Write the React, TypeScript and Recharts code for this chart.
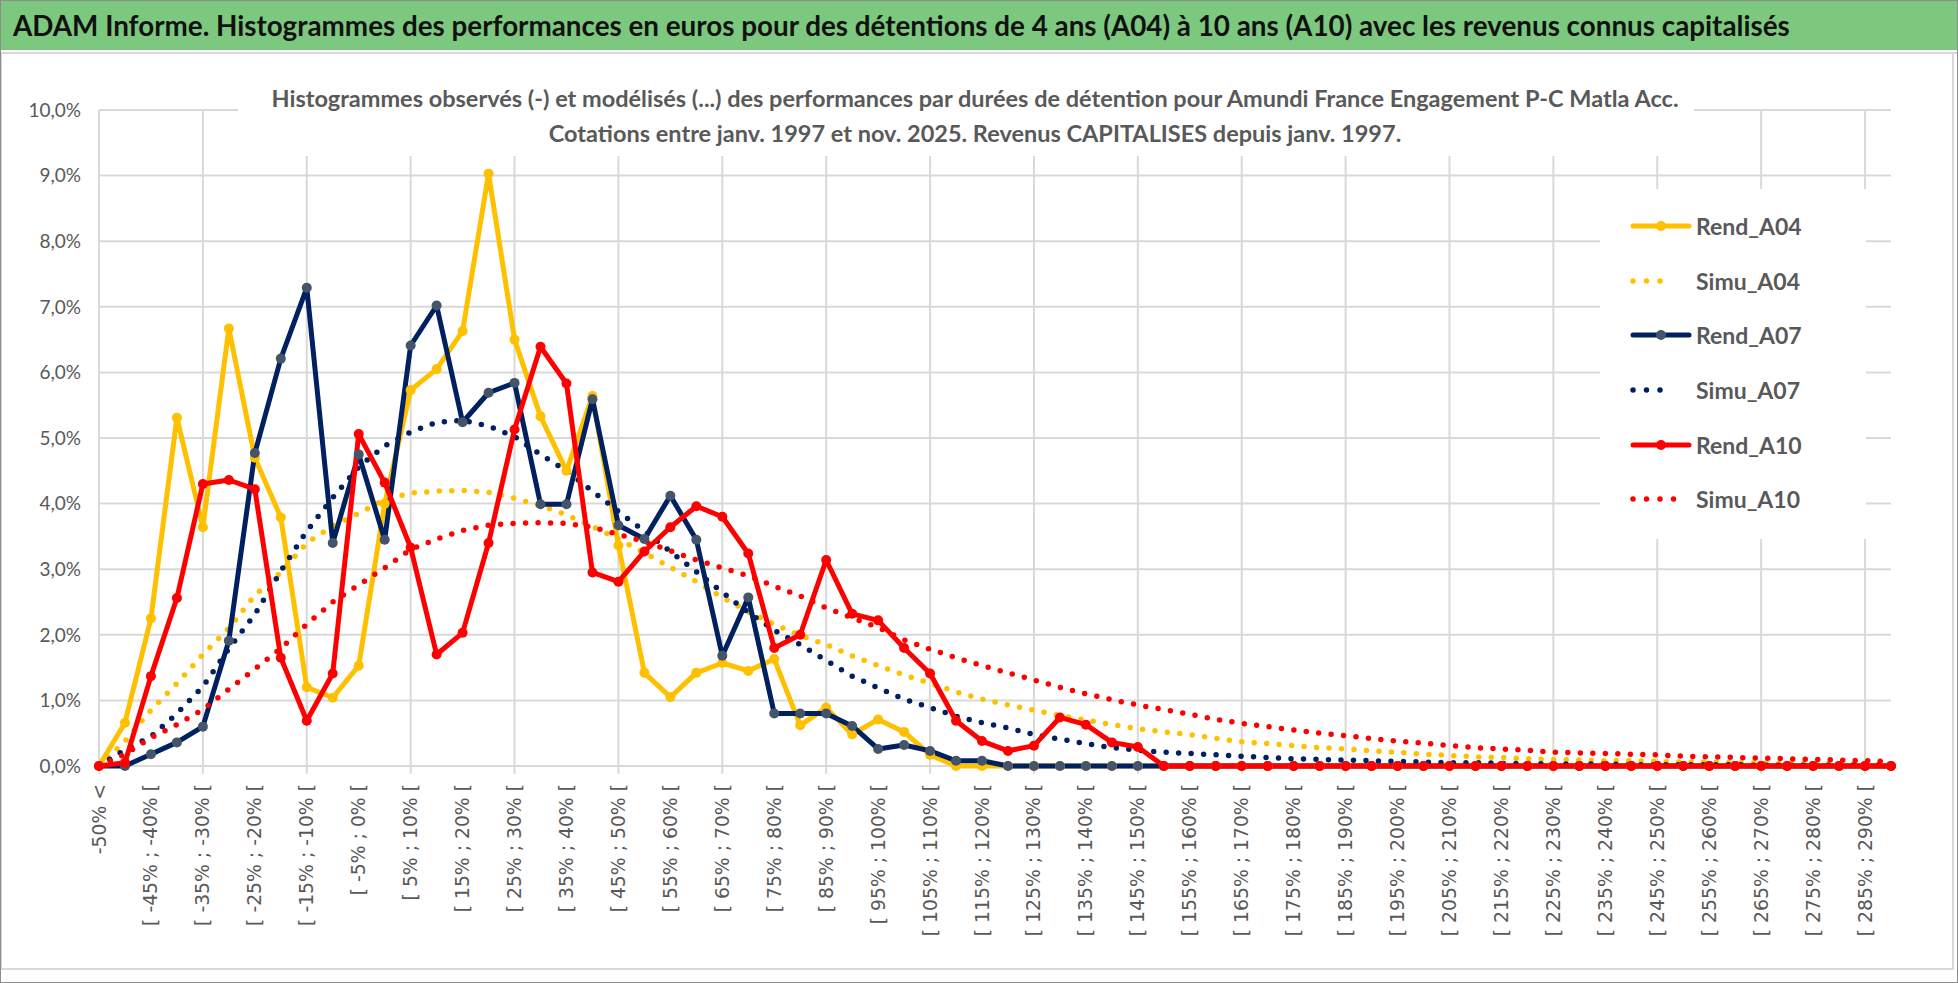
import React from "react";
import { LineChart, Line, XAxis, YAxis, CartesianGrid, ReferenceLine } from "recharts";

// Category bins (performance ranges)
const CATEGORIES = [
  "-50% <", "[ -50% ; -45% [", "[ -45% ; -40% [", "[ -40% ; -35% [", "[ -35% ; -30% [",
  "[ -30% ; -25% [", "[ -25% ; -20% [", "[ -20% ; -15% [", "[ -15% ; -10% [", "[ -10% ; -5% [",
  "[ -5% ; 0% [", "[ 0% ; 5% [", "[ 5% ; 10% [", "[ 10% ; 15% [", "[ 15% ; 20% [",
  "[ 20% ; 25% [", "[ 25% ; 30% [", "[ 30% ; 35% [", "[ 35% ; 40% [", "[ 40% ; 45% [",
  "[ 45% ; 50% [", "[ 50% ; 55% [", "[ 55% ; 60% [", "[ 60% ; 65% [", "[ 65% ; 70% [",
  "[ 70% ; 75% [", "[ 75% ; 80% [", "[ 80% ; 85% [", "[ 85% ; 90% [", "[ 90% ; 95% [",
  "[ 95% ; 100% [", "[ 100% ; 105% [", "[ 105% ; 110% [", "[ 110% ; 115% [", "[ 115% ; 120% [",
  "[ 120% ; 125% [", "[ 125% ; 130% [", "[ 130% ; 135% [", "[ 135% ; 140% [", "[ 140% ; 145% [",
  "[ 145% ; 150% [", "[ 150% ; 155% [", "[ 155% ; 160% [", "[ 160% ; 165% [", "[ 165% ; 170% [",
  "[ 170% ; 175% [", "[ 175% ; 180% [", "[ 180% ; 185% [", "[ 185% ; 190% [", "[ 190% ; 195% [",
  "[ 195% ; 200% [", "[ 200% ; 205% [", "[ 205% ; 210% [", "[ 210% ; 215% [", "[ 215% ; 220% [",
  "[ 220% ; 225% [", "[ 225% ; 230% [", "[ 230% ; 235% [", "[ 235% ; 240% [", "[ 240% ; 245% [",
  "[ 245% ; 250% [", "[ 250% ; 255% [", "[ 255% ; 260% [", "[ 260% ; 265% [", "[ 265% ; 270% [",
  "[ 270% ; 275% [", "[ 275% ; 280% [", "[ 280% ; 285% [", "[ 285% ; 290% [", "[ 290% ; 295% [",
];

// observed histograms (%)
const REND_A04 = [
  0.0, 0.66, 2.25, 5.31, 3.64, 6.67, 4.7, 3.79, 1.2, 1.04,
  1.53, 4.0, 5.73, 6.05, 6.63, 9.03, 6.5, 5.33, 4.5, 5.64,
  3.36, 1.42, 1.05, 1.42, 1.57, 1.45, 1.63, 0.62, 0.89, 0.48,
  0.71, 0.52, 0.17, 0.0, 0.0, 0, 0, 0, 0, 0,
  0, 0, 0, 0, 0, 0, 0, 0, 0, 0,
  0, 0, 0, 0, 0, 0, 0, 0, 0, 0,
  0, 0, 0, 0, 0, 0, 0, 0, 0, 0,
];
const REND_A07 = [
  0.0, 0.0, 0.18, 0.36, 0.6, 1.91, 4.77, 6.21, 7.29, 3.4,
  4.75, 3.45, 6.41, 7.02, 5.24, 5.69, 5.84, 3.99, 3.99, 5.59,
  3.67, 3.46, 4.12, 3.45, 1.68, 2.57, 0.8, 0.8, 0.8, 0.61,
  0.26, 0.32, 0.23, 0.08, 0.08, 0, 0, 0, 0, 0,
  0, 0, 0, 0, 0, 0, 0, 0, 0, 0,
  0, 0, 0, 0, 0, 0, 0, 0, 0, 0,
  0, 0, 0, 0, 0, 0, 0, 0, 0, 0,
];
const REND_A10 = [
  0.0, 0.05, 1.37, 2.56, 4.3, 4.36, 4.22, 1.65, 0.69, 1.41,
  5.06, 4.32, 3.33, 1.7, 2.03, 3.4, 5.13, 6.39, 5.83, 2.95,
  2.81, 3.27, 3.64, 3.96, 3.8, 3.24, 1.8, 2.0, 3.14, 2.32,
  2.22, 1.8, 1.41, 0.69, 0.38, 0.23, 0.31, 0.74, 0.63, 0.36,
  0.29, 0, 0, 0, 0, 0, 0, 0, 0, 0,
  0, 0, 0, 0, 0, 0, 0, 0, 0, 0,
  0, 0, 0, 0, 0, 0, 0, 0, 0, 0,
];

// modelled histograms (%)
const SIMU_A04 = [
  0.0, 0.38, 0.85, 1.26, 1.7, 2.1, 2.6, 2.95, 3.4, 3.66,
  3.85, 4.06, 4.16, 4.19, 4.2, 4.17, 4.08, 3.97, 3.83, 3.65,
  3.46, 3.25, 3.03, 2.81, 2.57, 2.35, 2.16, 1.99, 1.85, 1.68,
  1.53, 1.39, 1.26, 1.13, 1.02, 0.93, 0.85, 0.77, 0.7, 0.63,
  0.57, 0.52, 0.48, 0.42, 0.37, 0.34, 0.31, 0.28, 0.26, 0.23,
  0.21, 0.18, 0.16, 0.14, 0.13, 0.11, 0.1, 0.09, 0.08, 0.08,
  0.07, 0.06, 0.06, 0.05, 0.05, 0.04, 0.04, 0.04, 0.03, 0.03,
];
const SIMU_A07 = [
  0.0, 0.25, 0.45, 0.8, 1.21, 1.79, 2.31, 2.97, 3.58, 4.09,
  4.56, 4.88, 5.09, 5.24, 5.27, 5.18, 5.02, 4.75, 4.5, 4.19,
  3.88, 3.58, 3.27, 2.96, 2.65, 2.34, 2.07, 1.85, 1.61, 1.37,
  1.19, 1.02, 0.89, 0.76, 0.66, 0.58, 0.48, 0.41, 0.34, 0.28,
  0.24, 0.21, 0.19, 0.17, 0.15, 0.13, 0.11, 0.1, 0.09, 0.08,
  0.07, 0.06, 0.05, 0.05, 0.04, 0.04, 0.03, 0.03, 0.03, 0.02,
  0.02, 0.02, 0.02, 0.02, 0.01, 0.01, 0.01, 0.01, 0.01, 0.01,
];
const SIMU_A10 = [
  0.0, 0.18, 0.43, 0.63, 0.86, 1.17, 1.48, 1.79, 2.16, 2.5,
  2.76, 3.02, 3.3, 3.46, 3.59, 3.67, 3.7, 3.71, 3.7, 3.64,
  3.53, 3.42, 3.28, 3.14, 3.02, 2.9, 2.74, 2.59, 2.41, 2.26,
  2.11, 1.92, 1.78, 1.65, 1.53, 1.42, 1.31, 1.2, 1.1, 1.01,
  0.93, 0.86, 0.79, 0.71, 0.65, 0.6, 0.55, 0.5, 0.46, 0.42,
  0.38, 0.35, 0.31, 0.28, 0.26, 0.24, 0.21, 0.2, 0.19, 0.18,
  0.17, 0.15, 0.14, 0.13, 0.12, 0.11, 0.1, 0.09, 0.08, 0.07,
];

const Y_TICKS = [0, 1, 2, 3, 4, 5, 6, 7, 8, 9, 10];

const TITLE =
  "ADAM Informe. Histogrammes des performances en euros pour des détentions de 4 ans (A04) à 10 ans (A10) avec les revenus connus capitalisés";
const SUBTITLE_1 =
  "Histogrammes observés (-) et modélisés (...) des performances par durées de détention pour Amundi France Engagement P-C Matla Acc.";
const SUBTITLE_2 = "Cotations entre janv. 1997 et nov. 2025. Revenus CAPITALISES depuis janv. 1997.";

const GOLD = "#FFC000";
const NAVY = "#002060";
const NAVY_MARK = "#44546A";
const RED = "#FF0000";
const GRID = "#D9D9D9";
const TEXT = "#595959";

const SERIES = [
  { key: "Rend_A04", color: GOLD, mark: GOLD, dotted: false, dots: 0 },
  { key: "Simu_A04", color: GOLD, mark: GOLD, dotted: true, dots: 4 },
  { key: "Rend_A07", color: NAVY, mark: NAVY_MARK, dotted: false, dots: 0 },
  { key: "Simu_A07", color: NAVY, mark: NAVY, dotted: true, dots: 4 },
  { key: "Rend_A10", color: RED, mark: RED, dotted: false, dots: 0 },
  { key: "Simu_A10", color: RED, mark: RED, dotted: true, dots: 5 },
];

const data = CATEGORIES.map((cat, i) => ({
  cat,
  Rend_A04: REND_A04[i],
  Simu_A04: SIMU_A04[i],
  Rend_A07: REND_A07[i],
  Simu_A07: SIMU_A07[i],
  Rend_A10: REND_A10[i],
  Simu_A10: SIMU_A10[i],
}));

// vertical gridlines every 4 bins
const GRID_CATS = CATEGORIES.filter((_, i) => i % 4 === 0);

const pct = (v: number) => v.toFixed(1).replace(".", ",") + "%";

const XTick = (props: any) => {
  const { x, y, payload } = props;
  return (
    <text
      x={x}
      y={y}
      transform={`rotate(-90 ${x} ${y})`}
      textAnchor="end"
      dominantBaseline="central"
      fill={TEXT}
      fontSize={18.8}
      fontFamily="DejaVu Sans"
    >
      {payload.value}
    </text>
  );
};

const LegendBox = () => (
  <div
    style={{
      position: "absolute",
      left: 1599,
      top: 188,
      width: 266,
      background: "#fff",
      padding: "10px 0 12px 30px",
      boxSizing: "border-box",
    }}
  >
    {SERIES.map((s) => (
      <div key={s.key} style={{ display: "flex", alignItems: "center", height: 54.6 }}>
        <svg width={62} height={20} style={{ marginRight: 4 }}>
          {s.dotted ? (
            <line
              x1={3}
              y1={10}
              x2={3 + (s.dots - 1) * 13.5}
              y2={10}
              stroke={s.color}
              strokeWidth={5.5}
              strokeLinecap="round"
              strokeDasharray="0 13.5"
            />
          ) : (
            <>
              <line x1={3} y1={10} x2={59} y2={10} stroke={s.color} strokeWidth={5} strokeLinecap="round" />
              <circle cx={31} cy={10} r={5} fill={s.mark} />
            </>
          )}
        </svg>
        <span style={{ color: TEXT, fontWeight: 700, fontSize: 23, fontFamily: "Lato" }}>{s.key}</span>
      </div>
    ))}
  </div>
);

export default function App() {
  return (
    <div
      style={{
        position: "absolute",
        left: 0,
        top: 0,
        width: 1958,
        height: 983,
        boxSizing: "border-box",
        border: "1px solid #8C8C8C",
        background: "#fff",
        fontFamily: "Lato",
        overflow: "hidden",
      }}
    >
      <div
        style={{
          position: "absolute",
          left: 0,
          top: 0,
          width: 1956,
          height: 49,
          background: "#7DC87F",
          color: "#111",
          fontWeight: 700,
          fontSize: 27.8,
          lineHeight: "49px",
          paddingLeft: 12,
          boxSizing: "border-box",
          whiteSpace: "nowrap",
        }}
      >
        {TITLE}
      </div>
      <div style={{ position: "absolute", left: 0, top: 51, width: 1956, height: 2, background: GRID }} />
      <div
        style={{
          position: "absolute",
          left: 0,
          top: 53,
          width: 1953,
          height: 916,
          borderRight: `2px solid ${GRID}`,
          borderBottom: `2px solid ${GRID}`,
          borderLeft: `1px solid ${GRID}`,
          boxSizing: "border-box",
        }}
      />
      <div style={{ position: "absolute", left: -1, top: -1 }}>
        <LineChart width={1958} height={983} data={data} margin={{ top: 110, right: 67, left: 10, bottom: 17 }}>
          <CartesianGrid stroke={GRID} strokeWidth={2} vertical={false} />
          <XAxis
            dataKey="cat"
            interval={1}
            height={200}
            axisLine={false}
            tickLine={false}
            tickSize={0}
            tickMargin={18}
            tick={<XTick />}
          />
          <YAxis
            domain={[0, 10]}
            ticks={Y_TICKS}
            width={89}
            axisLine={false}
            tickLine={false}
            tickSize={0}
            tickMargin={18}
            tickFormatter={pct}
            tick={{ fill: TEXT, fontSize: 19, fontFamily: "Lato" }}
          />
          {GRID_CATS.map((c) => (
            <ReferenceLine
              key={c}
              segment={[{ x: c, y: -0.12 }, { x: c, y: 10 }]}
              ifOverflow="visible"
              stroke={GRID}
              strokeWidth={2}
            />
          ))}
          {SERIES.map((s) =>
            s.dotted ? (
              <Line
                key={s.key}
                type="linear"
                dataKey={s.key}
                stroke={s.color}
                strokeWidth={5.5}
                strokeLinecap="round"
                strokeDasharray="0 12.5"
                dot={false}
                activeDot={false}
                isAnimationActive={false}
              />
            ) : (
              <Line
                key={s.key}
                type="linear"
                dataKey={s.key}
                stroke={s.color}
                strokeWidth={5}
                strokeLinejoin="round"
                dot={{ r: 5, fill: s.mark, stroke: "none" }}
                activeDot={false}
                isAnimationActive={false}
              />
            )
          )}
        </LineChart>
      </div>
      <LegendBox />
      <div
        style={{
          position: "absolute",
          left: 237,
          top: 62,
          width: 1456,
          height: 93,
          background: "#fff",
          color: TEXT,
          fontWeight: 700,
          fontSize: 23.5,
          lineHeight: "35px",
          paddingTop: 18,
          paddingLeft: 18,
          boxSizing: "border-box",
          textAlign: "center",
          whiteSpace: "nowrap",
        }}
      >
        <div>{SUBTITLE_1}</div>
        <div>{SUBTITLE_2}</div>
      </div>
    </div>
  );
}
